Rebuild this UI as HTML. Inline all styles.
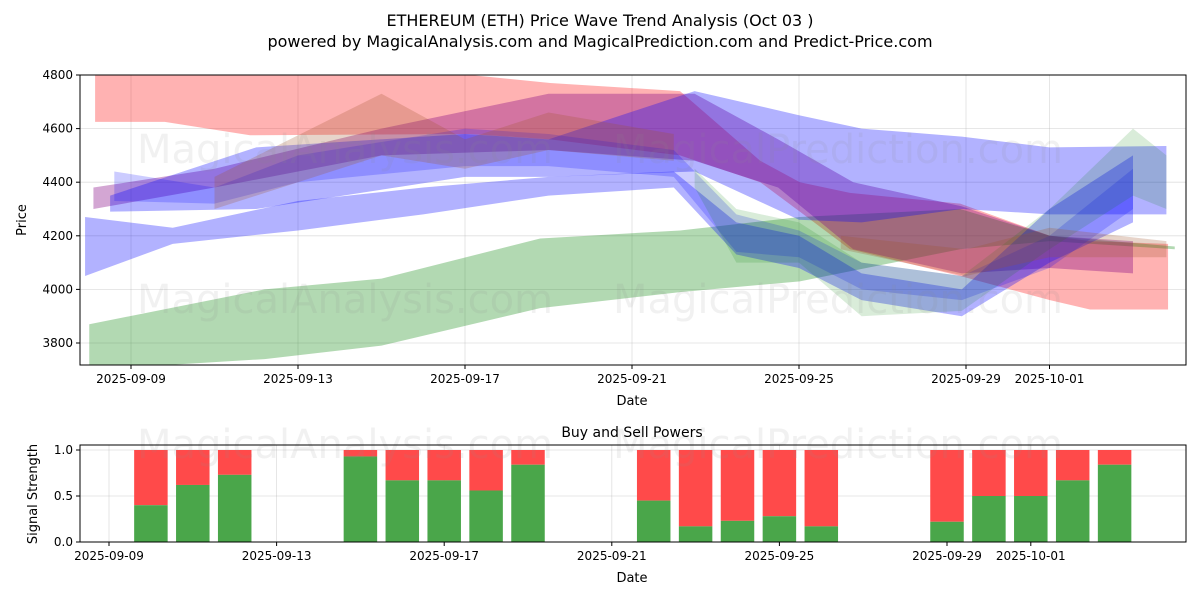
<!DOCTYPE html>
<html><head><meta charset="utf-8"><style>
html,body{margin:0;padding:0;background:#fff;}
svg{display:block;font-family:"DejaVu Sans","Liberation Sans",sans-serif;}
</style></head><body>
<svg id="c" width="1200" height="600" viewBox="0 0 1200 600">
<text x="600" y="26" text-anchor="middle" font-size="16">ETHEREUM (ETH) Price Wave Trend Analysis (Oct 03 )</text>
<text x="600" y="47" text-anchor="middle" font-size="16">powered by MagicalAnalysis.com and MagicalPrediction.com and Predict-Price.com</text>
<g id="topPanel"></g>
<g id="botPanel"></g>
</svg>
<script>
// ---- price panel data (day offset from 2025-09-09) ----
const bandColors = ['#ff0000','#008000','#800080','#0000ff','#0000ff','#0000ff','#008000','#a0522d','#a0522d'];
const bandAlpha = [0.3,0.3,0.35,0.3,0.3,0.2,0.15,0.25,0.25];
const bandDays = [
 [-0.86,0.81,2.85,8.12,10.04,13.15,15.07,16.02,17.22,19.86,22.01,22.97,24.84],
 [-1.0,3.2,6.0,9.8,13.15,16.02,19.86,22.01,25.0],
 [-0.9,2,6,10,13.5,15.5,17.3,19.9,22,24],
 [-0.5,3,8,10,13.5,16,17.5,19.9,22,24.8],
 [-1.1,1,4,7,10,13,14.5,16,17.5,19.9,22,24],
 [-0.4,2,4,8,10,13,14.5,16,17.5,19.9,22,24],
 [13.5,14.5,16,17.5,19.9,22,24,24.8],
 [2,6,8,10,13],
 [17,20,22,24.8]
];
const bandHigh = [
 [4800,4800,4800,4800,4770,4740,4480,4400,4360,4320,4200,4180,4170],
 [3870,4000,4040,4190,4220,4270,4300,4200,4160],
 [4380,4450,4600,4730,4730,4560,4400,4310,4200,4180],
 [4350,4530,4580,4560,4740,4650,4600,4570,4530,4535],
 [4270,4230,4330,4380,4420,4440,4250,4200,4060,4000,4300,4500],
 [4440,4380,4500,4600,4580,4520,4280,4220,4100,4050,4200,4450],
 [4450,4300,4250,4100,4050,4300,4600,4500],
 [4420,4730,4560,4660,4580],
 [4200,4150,4230,4180]
];
const bandLow = [
 [4625,4625,4575,4580,4560,4500,4400,4290,4150,4050,3960,3925,3925],
 [3700,3740,3790,3930,3990,4030,4150,4180,4150],
 [4300,4380,4500,4520,4480,4380,4150,4060,4080,4060],
 [4290,4300,4420,4420,4440,4260,4250,4300,4280,4280],
 [4050,4170,4220,4280,4350,4380,4130,4080,3960,3900,4100,4250],
 [4330,4320,4400,4460,4460,4420,4140,4120,4000,3960,4080,4300],
 [4380,4100,4100,3900,3920,4150,4350,4300],
 [4300,4500,4450,4520,4480],
 [4150,4050,4120,4120]
];
const priceTicks = [3800,4000,4200,4400,4600,4800];
const dateTickDays = [0,4,8,12,16,20,22];
const dateTickLabels = ['2025-09-09','2025-09-13','2025-09-17','2025-09-21','2025-09-25','2025-09-29','2025-10-01'];
// ---- signal panel data ----
const sigDays = [1,2,3,6,7,8,9,10,13,14,15,16,17,20,21,22,23,24];
const buyPower = [0.4,0.62,0.73,0.93,0.67,0.67,0.56,0.84,0.45,0.17,0.23,0.28,0.17,0.22,0.5,0.5,0.67,0.84];
const sigTicks = [0,0.5,1.0];
const sigTickLabels = ['0.0','0.5','1.0'];

const NS='http://www.w3.org/2000/svg';
function mk(tag,attrs,parent){const e=document.createElementNS(NS,tag);for(const k in attrs)e.setAttribute(k,attrs[k]);parent.appendChild(e);return e;}
const topG=document.getElementById('topPanel'), botG=document.getElementById('botPanel');
const T={x0:80,x1:1186,y0:75,y1:365};
const tx=d=>131+d*41.75, ty=v=>75+(4800-v)*0.268;
const clip=mk('clipPath',{id:'tc'},topG); mk('rect',{x:T.x0,y:T.y0,width:T.x1-T.x0,height:T.y1-T.y0},clip);
const grid=mk('g',{},topG);
priceTicks.forEach(v=>{const l=mk('line',{x1:T.x0,x2:T.x1,y1:ty(v),y2:ty(v),stroke:'#b0b0b0','stroke-width':0.8,'stroke-opacity':0.4},grid);});
dateTickDays.forEach(d=>{const l=mk('line',{x1:tx(d),x2:tx(d),y1:T.y0,y2:T.y1,stroke:'#b0b0b0','stroke-width':0.8,'stroke-opacity':0.4},grid);});
const bands=mk('g',{'clip-path':'url(#tc)'},topG);
bandDays.forEach((ds,i)=>{
 let pts=ds.map((d,j)=>tx(d)+','+ty(bandHigh[i][j]));
 for(let j=ds.length-1;j>=0;j--)pts.push(tx(ds[j])+','+ty(bandLow[i][j]));
 const p=mk('polygon',{points:pts.join(' '),fill:bandColors[i],'fill-opacity':bandAlpha[i]},bands);
 
 
});
function wm(g,x,y,t){const e=mk('text',{x:x,y:y,'font-size':40,fill:'#888','fill-opacity':0.12,'text-anchor':'middle'},g);e.textContent=t;}
wm(topG,345,163,'MagicalAnalysis.com');wm(topG,838,163,'MagicalPrediction.com');
wm(topG,345,313,'MagicalAnalysis.com');wm(topG,838,313,'MagicalPrediction.com');
mk('rect',{x:T.x0,y:T.y0,width:T.x1-T.x0,height:T.y1-T.y0,fill:'none',stroke:'#000','stroke-width':1},topG);
priceTicks.forEach(v=>{mk('line',{x1:T.x0-4,x2:T.x0,y1:ty(v),y2:ty(v),stroke:'#000'},topG);const t=mk('text',{x:T.x0-7,y:ty(v)+4,'font-size':12,'text-anchor':'end'},topG);t.textContent=v;});
dateTickDays.forEach((d,i)=>{mk('line',{x1:tx(d),x2:tx(d),y1:T.y1,y2:T.y1+4,stroke:'#000'},topG);const t=mk('text',{x:tx(d),y:T.y1+18,'font-size':12,'text-anchor':'middle'},topG);t.textContent=dateTickLabels[i];});
let a=mk('text',{x:632,y:405,'font-size':13,'text-anchor':'middle'},topG);a.textContent='Date';
a=mk('text',{x:26,y:220,'font-size':13,'text-anchor':'middle',transform:'rotate(-90 26 220)'},topG);a.textContent='Price';
const B={x0:80,x1:1186,y0:445,y1:542};
const bx=d=>109+d*41.9, by=v=>542-v*92;
sigTicks.forEach(v=>{mk('line',{x1:B.x0,x2:B.x1,y1:by(v),y2:by(v),stroke:'#b0b0b0','stroke-width':0.8,'stroke-opacity':0.4},botG);});
dateTickDays.forEach(d=>{mk('line',{x1:bx(d),x2:bx(d),y1:B.y0,y2:B.y1,stroke:'#b0b0b0','stroke-width':0.8,'stroke-opacity':0.4},botG);});
sigDays.forEach((d,i)=>{
 const w=33.5,x=bx(d)-w/2;
 const s=mk('rect',{x:x,y:by(1),width:w,height:by(buyPower[i])-by(1),fill:'#ff4a4a'},botG);
 
 
 const g=mk('rect',{x:x,y:by(buyPower[i]),width:w,height:by(0)-by(buyPower[i]),fill:'#4aa64a'},botG);
 
 
});
wm(botG,345,458,'MagicalAnalysis.com');wm(botG,838,458,'MagicalPrediction.com');
mk('rect',{x:B.x0,y:B.y0,width:B.x1-B.x0,height:B.y1-B.y0,fill:'none',stroke:'#000','stroke-width':1},botG);
sigTicks.forEach((v,i)=>{mk('line',{x1:B.x0-4,x2:B.x0,y1:by(v),y2:by(v),stroke:'#000'},botG);const t=mk('text',{x:B.x0-7,y:by(v)+4,'font-size':12,'text-anchor':'end'},botG);t.textContent=sigTickLabels[i];});
dateTickDays.forEach((d,i)=>{mk('line',{x1:bx(d),x2:bx(d),y1:B.y1,y2:B.y1+4,stroke:'#000'},botG);const t=mk('text',{x:bx(d),y:B.y1+18,'font-size':12,'text-anchor':'middle'},botG);t.textContent=dateTickLabels[i];});
a=mk('text',{x:632,y:582,'font-size':13,'text-anchor':'middle'},botG);a.textContent='Date';
a=mk('text',{x:632,y:437,'font-size':14,'text-anchor':'middle'},botG);a.textContent='Buy and Sell Powers';
a=mk('text',{x:37,y:494,'font-size':13,'text-anchor':'middle',transform:'rotate(-90 37 494)'},botG);a.textContent='Signal Strength';
</script>
</body></html>
